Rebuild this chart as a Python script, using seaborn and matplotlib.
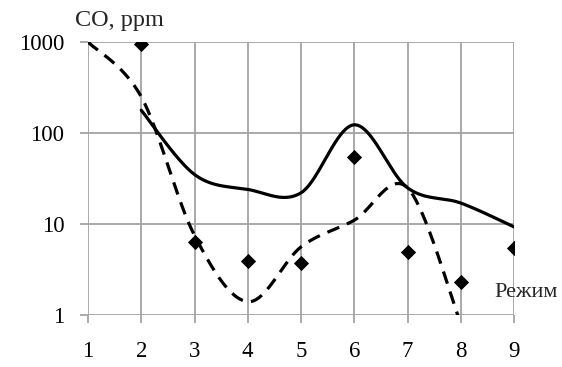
import numpy as np
import pandas as pd
import matplotlib
matplotlib.use("Agg")
import matplotlib.pyplot as plt
import seaborn as sns

# values (CO, ppm on a log axis)
modes = [1, 2, 3, 4, 5, 6, 7, 8, 9]
solid_x = [2, 3, 4, 5, 6, 7, 8, 9]
solid_co = [178, 35, 24, 22, 123, 25, 17, 9.3]
dashed_x = [1, 2, 3, 4, 5, 6, 7, 8]
dashed_co = [1000, 250, 7.5, 1.4, 5.6, 11, 25, 0.8]
points_x = [2, 3, 4, 5, 6, 7, 8, 9]
points_co = [950, 6.3, 3.9, 3.7, 55, 4.9, 2.3, 5.5]
y_ticks = [1, 10, 100, 1000]


def smooth(xs, ys, n=40):
    # Excel-like smoothed line: Catmull-Rom bezier in log space
    x = np.asarray(xs, float)
    y = np.log10(np.asarray(ys, float))
    px, py = [], []
    for i in range(len(x) - 1):
        x0, y0 = (x[i - 1], y[i - 1]) if i > 0 else (x[i], y[i])
        x3, y3 = (x[i + 2], y[i + 2]) if i + 2 < len(x) else (x[i + 1], y[i + 1])
        c1x = x[i] + (x[i + 1] - x0) / 6
        c1y = y[i] + (y[i + 1] - y0) / 6
        c2x = x[i + 1] - (x3 - x[i]) / 6
        c2y = y[i + 1] - (y3 - y[i]) / 6
        t = np.linspace(0, 1, n)
        a, b, c, d = (1 - t) ** 3, 3 * t * (1 - t) ** 2, 3 * t ** 2 * (1 - t), t ** 3
        px.extend(a * x[i] + b * c1x + c * c2x + d * x[i + 1])
        py.extend(a * y[i] + b * c1y + c * c2y + d * y[i + 1])
    return pd.DataFrame({"mode": px, "co": 10 ** np.array(py)})


sns.set_style("white")
plt.rcParams["font.family"] = ["Liberation Serif", "DejaVu Serif"]

fig = plt.figure(figsize=(5.62, 3.67), dpi=100)
ax = fig.add_axes([88 / 562, 1 - 315 / 367, 426 / 562, 273 / 367])

solid = smooth(solid_x, solid_co)
dashed = smooth(dashed_x, dashed_co)
pts = pd.DataFrame({"mode": points_x, "co": points_co})

sns.lineplot(data=solid, x="mode", y="co", color="black", lw=2.3, sort=False, ax=ax)
sns.lineplot(data=dashed, x="mode", y="co", color="black", lw=2.3, sort=False, ax=ax)
ax.lines[-1].set_dashes((4, 2.6))
sns.scatterplot(data=pts, x="mode", y="co", marker="D", s=60, color="black",
                linewidth=0, ax=ax, zorder=5)

ax.set_yscale("log")
ax.set_xlim(1, 9)
ax.set_ylim(1, 1000)
ax.set_xticks(modes)
ax.set_yticks(y_ticks)
ax.set_yticklabels([str(v) for v in y_ticks])
ax.minorticks_off()
ax.set_xlabel("")
ax.set_ylabel("")
ax.grid(True, color="#a3a3a3", lw=1.3)
for s in ax.spines.values():
    s.set_visible(False)
ax.tick_params(axis="both", direction="out", length=6, width=1.3, color="#a3a3a3",
               labelsize=16.5, labelcolor="black")
ax.tick_params(axis="y", left=True, pad=11)
ax.tick_params(axis="x", bottom=True, pad=13)

fig.text(75 / 562, 1 - 26 / 367, "CO, ppm", fontsize=17.5, va="baseline")
fig.text(494 / 562, 1 - 297 / 367, "Режим", fontsize=16, va="baseline")

fig.savefig("out.png", dpi=100)
